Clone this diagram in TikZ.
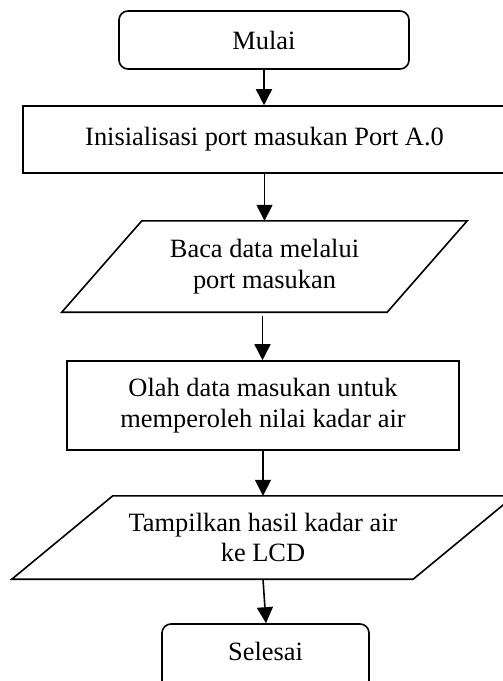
\documentclass[tikz,border=0pt]{standalone}
\usepackage{fontspec}
\setmainfont{Liberation Serif}
\usetikzlibrary{arrows.meta}
\begin{document}
\begin{tikzpicture}[x=1bp,y=-1bp,
  every node/.style={font=\fontsize{26.5}{31}\selectfont, inner sep=0pt, align=center},
  termbox/.style={draw, line width=1.6bp, rounded corners=9bp},
  procbox/.style={draw, line width=1.6bp},
  iobody/.style={},
  shapeline/.style={line width=1.6bp, line join=miter},
  arr/.style={line width=1.6bp, -{Triangle[width=16bp,length=16bp]}}
]
\useasboundingbox (0,0) rectangle (503,681);
\clip (0,0) rectangle (503,681);
\fill[white] (0,0) rectangle (503,681);

\node[termbox, minimum width=290bp, minimum height=58bp] (start) at (264,40) {Mulai};
\node[procbox, minimum width=483bp, minimum height=67bp] (init) at (264.5,139.5) {Inisialisasi port masukan Port A.0};
\node[iobody, minimum width=405bp, minimum height=91bp] (read) at (264.5,266.5) {Baca data melalui\\port masukan};
\draw[shapeline] ([xshift=80bp]read.north west) -- (read.north east) -- ([xshift=-80bp]read.south east) -- (read.south west) -- cycle;
\node[procbox, minimum width=392bp, minimum height=89bp] (proc) at (263,405.5) {Olah data masukan untuk\\memperoleh nilai kadar air};
\node[iobody, minimum width=502bp, minimum height=83bp] (show) at (263,537.5) {Tampilkan hasil kadar air\\ke LCD};
\draw[shapeline] ([xshift=101bp]show.north west) -- (show.north east) -- ([xshift=-101bp]show.south east) -- (show.south west) -- cycle;
\node[termbox, minimum width=207bp, minimum height=66bp, text height=18bp, text depth=12bp] (end) at (265.5,657) {Selesai};

\draw[arr] (start.south) -- (start.south |- init.north);
\draw[arr] (init.south) -- (init.south |- read.north);
\draw[arr] ([xshift=-2bp,yshift=-4bp]read.south) -- ([xshift=-2bp]read.south |- proc.north);
\draw[arr] (proc.south) -- (proc.south |- show.north);
\draw[arr] (show.south) -- ([xshift=3bp]show.south |- end.north);
\end{tikzpicture}
\end{document}
